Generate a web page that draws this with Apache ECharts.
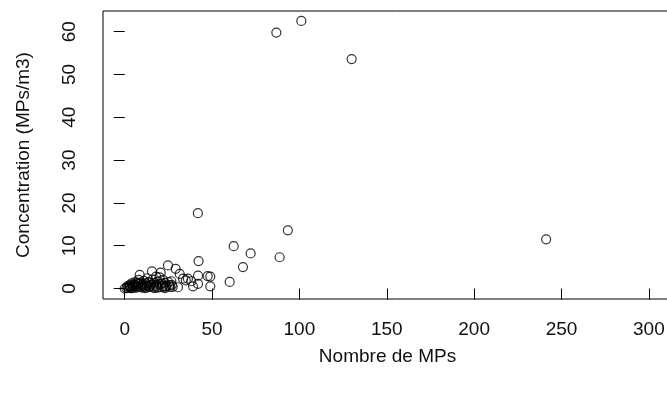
<!DOCTYPE html>
<html>
<head>
<meta charset="utf-8">
<script src="https://cdn.jsdelivr.net/npm/echarts@6/dist/echarts.min.js"></script>
<style>
  html, body { margin: 0; padding: 0; background: #fff; overflow: hidden; }
  #chart { width: 690px; height: 394px; }
</style>
</head>
<body>
<div id="chart"></div>
<script>
// nombre de MPs (x) et concentration MPs/m3 (y)
const nbMPs = [
  0, 1, 2, 1.5, 3, 3, 4, 4, 5, 5, 6, 6, 7, 7, 8, 8, 8.6, 9, 9, 10,
  10, 11, 11, 12, 12, 13, 13, 14, 14, 15, 15.6, 16, 16, 17, 17, 18, 18, 19, 19, 20,
  20.6, 21, 22, 22, 23, 23, 24, 24.8, 25, 26, 26.7, 27, 29.2, 30.5, 31.5, 33.4, 36.2, 38.1, 39.1, 42,
  42, 42.3, 41.9, 47.5, 49, 49, 60.1, 62.4, 67.7, 72.1, 88.7, 93.4, 86.8, 101.1, 129.9, 241.2,
  2.5, 3.5, 4.5, 5.5, 6.5, 7.5, 9.5, 10.5, 11.5, 12.5, 13.5, 14.5, 16.5, 18.5, 20, 21.5, 23.5, 25.5, 27.5, 35
]
const concentration = [
  0, 0.1, 0.2, 0.5, 0.3, 0.8, 0.1, 1.2, 0.5, 0.2, 0.9, 1.5, 0.3, 0.6, 1.1, 2.0, 3.2, 0.4, 1.4, 0.2,
  0.8, 1.8, 0.5, 1.2, 0.1, 2.4, 0.7, 1.5, 0.3, 0.9, 4.0, 2.1, 0.4, 1.3, 0.1, 2.8, 0.6, 1.6, 0.2, 1.0,
  3.7, 0.3, 2.0, 0.5, 1.3, 0.1, 0.6, 5.4, 1.5, 0.3, 1.7, 0.8, 4.6, 0.3, 3.4, 2.3, 2.3, 1.7, 0.5, 3.0,
  1.1, 6.4, 17.6, 2.9, 2.8, 0.5, 1.55, 9.9, 5.0, 8.2, 7.3, 13.6, 59.8, 62.5, 53.6, 11.5,
  0.6, 0.1, 0.7, 1.0, 0.2, 1.3, 0.7, 1.1, 0.2, 0.6, 1.4, 0.5, 0.9, 0.3, 2.6, 1.1, 0.4, 0.8, 0.4, 1.9
]
const xTicks = [0, 50, 100, 150, 200, 250, 300]
const yTicks = [0, 10, 20, 30, 40, 50, 60]

const points = nbMPs.map((x, i) => [x, concentration[i]])
const font = 'Liberation Sans, Arial, sans-serif'

const chart = echarts.init(document.getElementById('chart'))
chart.setOption({
  animation: false,
  backgroundColor: '#fff',
  grid: {
    left: 103, top: 11, right: 2, bottom: 95,
    show: true, borderColor: '#000', borderWidth: 1, backgroundColor: 'transparent'
  },
  xAxis: {
    type: 'value',
    min: -12.4,
    max: 322.4,
    name: 'Nombre de MPs',
    nameLocation: 'middle',
    nameGap: 48,
    nameTextStyle: { color: '#111', fontSize: 19, fontFamily: font, padding: [0, 16, 0, 0] },
    axisLine: { show: false },
    axisTick: { show: true, length: 11, customValues: xTicks, lineStyle: { color: '#000', width: 1 } },
    axisLabel: { customValues: xTicks, margin: 21, color: '#111', fontSize: 19, fontFamily: font },
    splitLine: { show: false }
  },
  yAxis: {
    type: 'value',
    min: -2.45,
    max: 64.83,
    name: 'Concentration (MPs/m3)',
    nameLocation: 'middle',
    nameGap: 70,
    nameTextStyle: { color: '#111', fontSize: 19, fontFamily: font },
    axisLine: { show: false },
    axisTick: { show: true, length: 11, customValues: yTicks, lineStyle: { color: '#000', width: 1 } },
    axisLabel: { customValues: yTicks, rotate: 90, margin: 24, color: '#111', fontSize: 19, fontFamily: font },
    splitLine: { show: false }
  },
  series: [{
    type: 'scatter',
    data: points,
    symbol: 'circle',
    symbolSize: 9,
    silent: true,
    itemStyle: { color: 'rgba(0,0,0,0)', borderColor: '#000', borderWidth: 1.2 }
  }]
})
</script>
</body>
</html>
